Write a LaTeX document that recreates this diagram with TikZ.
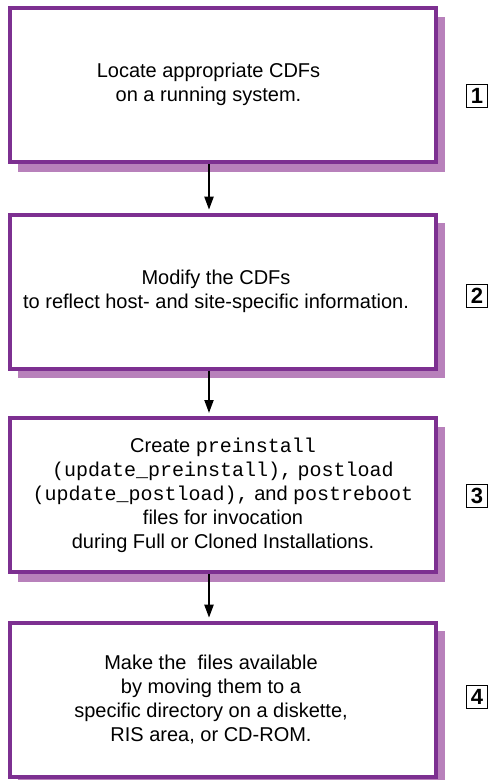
\documentclass[tikz,border=0pt]{standalone}
\usepackage{fontspec}
\setmainfont{Liberation Sans}
\newfontfamily\cour{Liberation Mono}
\usetikzlibrary{arrows.meta,calc,backgrounds}
\definecolor{boxpurple}{RGB}{125,48,145}
\definecolor{shadowpurple}{RGB}{184,129,187}
\tikzset{
  stepbox/.style={draw=boxpurple, line width=4pt, fill=white, rectangle,
    minimum width=426.2pt, minimum height=154pt, inner sep=0pt},
  steptext/.style={align=center, inner sep=0pt, font=\fontsize{20}{24}\selectfont},
  numlabel/.style={draw=black, line width=1.6pt, rectangle, minimum width=21pt,
    minimum height=23pt, inner sep=0pt, font=\fontsize{22}{24}\selectfont\bfseries},
  flowarrow/.style={line width=2pt, -{Triangle[length=13pt,width=9pt]}, shorten >=3pt},
  shadowfill/.style={fill=shadowpurple}
}
\newcommand{\mytt}[1]{{\cour #1}}
\begin{document}
\begin{tikzpicture}[x=1pt,y=-1pt]
\useasboundingbox (0,0) rectangle (489,780);
\clip (0,0) rectangle (489,780);
\node[stepbox] (b1) at (222.6,85) {};
\node[stepbox] (b2) at (222.6,291.7) {};
\node[stepbox] (b3) at (222.6,495) {};
\node[stepbox] (b4) at (222.6,699.7) {};
\begin{scope}[on background layer]
  \foreach \b in {b1,b2,b3,b4}{
    \fill[shadowfill] ($(\b.north west)+(10.5,10.5)$) rectangle ($(\b.south east)+(7.5,7.7)$);
  }
\end{scope}
\node[steptext] (t1) at (208.5,84) {Locate appropriate CDFs\\on a running system.};
\node[steptext] (t2) at (216,291) {Modify the CDFs\\to reflect host- and site-specific information.};
\node[steptext] (t3) at (223,495) {Create \mytt{preinstall}\\\mytt{(update\_preinstall),} \mytt{postload}\\\mytt{(update\_postload),} and \mytt{postreboot}\\files for invocation\\during Full or Cloned Installations.};
\node[steptext] (t4) at (211,700) {Make the~ files available\\by moving them to a\\specific directory on a diskette,\\RIS area, or CD-ROM.};
\coordinate (ax) at (209,0);
\draw[flowarrow] (b1.south -| ax) -- (b2.north -| ax);
\draw[flowarrow] (b2.south -| ax) -- (b3.north -| ax);
\draw[flowarrow] (b3.south -| ax) -- (b4.north -| ax);
\node[numlabel] (n1) at (477,96) {1};
\node[numlabel] (n2) at (477,296) {2};
\node[numlabel] (n3) at (477,496) {3};
\node[numlabel] (n4) at (477,697) {4};
\end{tikzpicture}
\end{document}
